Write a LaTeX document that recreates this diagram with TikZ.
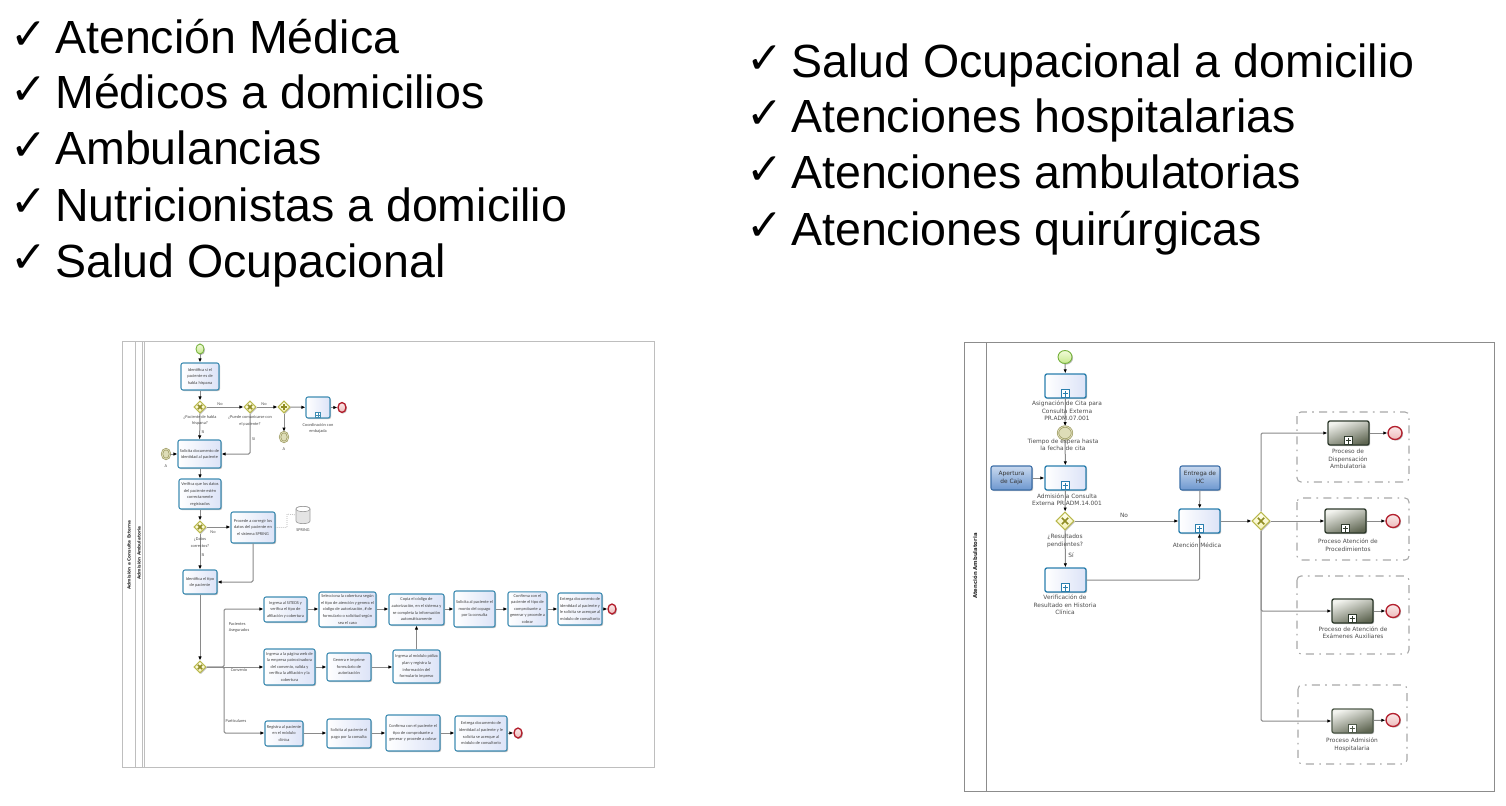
\documentclass[tikz,border=0pt]{standalone}
\usepackage{fontspec}
\setmainfont{Liberation Sans}
\newfontfamily\narrowf{Carlito}
\newfontfamily\widef{DejaVu Sans}
\usetikzlibrary{shapes.geometric,arrows.meta,shadows}
\definecolor{lineg}{HTML}{8A8A8A}
\definecolor{framec}{HTML}{BEBEBE}
\definecolor{framer}{HTML}{8C8C8C}
\newcommand{\dc}[1]{\definecolor{c#1}{HTML}{#1}}
\dc{3F8DB3}\dc{DCE3F7}\dc{2A7FAE}\dc{3D6FA8}\dc{C9D9EF}\dc{6D97CF}\dc{2E3A2C}\dc{F2F3EE}\dc{5F6652}\dc{4F5A4A}
\dc{B9B84C}\dc{FFFFF0}\dc{F4F1B4}\dc{8F8C24}\dc{77B23E}\dc{F2FBD9}\dc{C6E98D}\dc{B3202E}\dc{FBE9E9}\dc{EDBBBB}
\dc{9C9A62}\dc{DEDDB8}\dc{A8A8A8}\dc{A0A0A0}\dc{E4E4E4}
\tikzset{
  x=0.75pt,y=-0.75pt,
  headline/.style={font=\fontsize{34.9}{36}\selectfont,anchor=base west,inner sep=0pt,text=black},
  tickmark/.style={font=\widef\fontsize{33}{34}\selectfont,anchor=center,inner sep=0pt,text=black},
  softshadow/.style={drop shadow={shadow xshift=0.8pt,shadow yshift=-0.8pt,opacity=0.25,fill=black}},
  lefttask/.style={draw=c3F8DB3,line width=0.8pt,rounded corners=1.5pt,inner sep=0.5pt,align=center,
     left color=white,right color=cDCE3F7,softshadow,
     font=\narrowf\fontsize{3.25}{4.95}\selectfont,text=black!75},
  righttask/.style={lefttask,line width=1pt,draw=c2A7FAE},
  bluetask/.style={draw=c3D6FA8,line width=0.8pt,rounded corners=1.5pt,inner sep=0.5pt,align=center,
     top color=cC9D9EF,bottom color=c6D97CF,softshadow,
     font=\widef\fontsize{4.4}{5.7}\selectfont,text=black!80},
  greytask/.style={draw=c2E3A2C,line width=1pt,rounded corners=1.5pt,inner sep=0.5pt,
     top color=cF2F3EE,bottom color=c5F6652,shading angle=20,softshadow},
  greytaskb/.style={greytask,draw=c4F5A4A},
  flow/.style={draw=lineg,line width=0.75pt,rounded corners=1pt,-{Latex[length=3pt,width=2.6pt,black]}},
  lbl/.style={font=\narrowf\fontsize{3.25}{4.95}\selectfont,text=black!70,align=center,inner sep=0pt},
  rlbl/.style={font=\widef\fontsize{4.4}{5.7}\selectfont,text=black!70,align=center,inner sep=0pt},
  vtitle/.style={font=\widef\bfseries\fontsize{3.2}{4}\selectfont,rotate=90,inner sep=0pt,text=black!85},
  vtitleb/.style={font=\widef\bfseries\fontsize{4}{5}\selectfont,rotate=90,inner sep=0pt,text=black!85},
  gatew/.style={diamond,aspect=1,draw=cB9B84C,line width=0.8pt,inner sep=0pt,
     top color=cFFFFF0,bottom color=cF4F1B4,softshadow},
  gwmark/.style={draw=c8F8C24,line width=1.1pt},
  startev/.style={ellipse,draw=c77B23E,line width=0.7pt,inner sep=0pt,top color=cF2FBD9,bottom color=cC6E98D,softshadow},
  endev/.style={ellipse,draw=cB3202E,line width=1pt,inner sep=0pt,top color=cFBE9E9,bottom color=cEDBBBB,softshadow},
  interev/.style={ellipse,double=cDEDDB8,double distance=0.6pt,draw=c9C9A62,line width=0.5pt,inner sep=0pt,fill=cDEDDB8},
  markerb/.style={draw=#1,line width=0.6pt,fill=white,inner sep=0pt},
  dashbox/.style={draw=cA8A8A8,line width=0.8pt,rounded corners=3pt,
     dash pattern=on 6pt off 4pt on 1.2pt off 4pt},
  storeline/.style={draw=cA0A0A0,line width=0.5pt},
}
% style, name, x1, y1, x2, y2, text
\newcommand{\bx}[7]{%
  \pgfmathsetmacro{\bxw}{(#5-#3)*0.75}%
  \pgfmathsetmacro{\bxh}{(#6-#4)*0.75}%
  \node[#1,minimum width=\bxw pt,minimum height=\bxh pt] (#2) at ({(#3+#5)/2},{(#4+#6)/2})
    {\ifx&#7&\else\begin{tabular}{@{}c@{}}#7\end{tabular}\fi};}
% name, x, y, half size
\newcommand{\gwx}[4]{%
  \pgfmathsetmacro{\gws}{#4*1.5}%
  \node[gatew,minimum width=\gws pt,minimum height=\gws pt] (#1) at (#2,#3) {};
  \draw[gwmark] ([shift={(-#4*0.36,-#4*0.36)}]#1.center) -- ([shift={(#4*0.36,#4*0.36)}]#1.center);
  \draw[gwmark] ([shift={(-#4*0.36,#4*0.36)}]#1.center) -- ([shift={(#4*0.36,-#4*0.36)}]#1.center);}
\newcommand{\gwp}[4]{%
  \pgfmathsetmacro{\gws}{#4*1.5}%
  \node[gatew,minimum width=\gws pt,minimum height=\gws pt] (#1) at (#2,#3) {};
  \draw[gwmark] ([shift={(-#4*0.5,0)}]#1.center) -- ([shift={(#4*0.5,0)}]#1.center);
  \draw[gwmark] ([shift={(0,#4*0.5)}]#1.center) -- ([shift={(0,-#4*0.5)}]#1.center);}
% event: style, name, x, y, rx, ry
\newcommand{\ev}[6]{%
  \pgfmathsetmacro{\evw}{#5*1.5}\pgfmathsetmacro{\evh}{#6*1.5}%
  \node[#1,minimum width=\evw pt,minimum height=\evh pt] (#2) at (#3,#4) {};}
% sub-process marker: parent name, colour, half-size(px)
\newcommand{\mk}[3]{%
  \pgfmathsetmacro{\mks}{#3*1.5}%
  \node[markerb=#2,minimum size=\mks pt,anchor=south] (#1-m) at ([yshift=0.3pt]#1.south) {};
  \draw[#2,line width=0.7pt] ([xshift=-#3*0.55]#1-m.center) -- ([xshift=#3*0.55]#1-m.center);
  \draw[#2,line width=0.7pt] ([yshift=-#3*0.55]#1-m.center) -- ([yshift=#3*0.55]#1-m.center);}
\begin{document}
\begin{tikzpicture}
\useasboundingbox (0,0) rectangle (1506,806);
\fill[white] (0,0) rectangle (1506,806);
% ---- headline lists
\foreach \n/\t/\yy in {a/Atención Médica/54,b/Médicos a domicilios/109,c/Ambulancias/165,d/Nutricionistas a domicilio/221,e/Salud Ocupacional/277}{
  \node[tickmark] (ck\n) at (28.5,\yy-18) {✓};
  \node[headline] (h\n) at (55,\yy) {\t};
}
\foreach \n/\t/\yy in {f/Salud Ocupacional a domicilio/78,g/Atenciones hospitalarias/133,h/Atenciones ambulatorias/189,i/Atenciones quirúrgicas/245}{
  \node[tickmark] (ck\n) at (764.5,\yy-18) {✓};
  \node[headline] (h\n) at (791,\yy) {\t};
}
% ---- LEFT DIAGRAM
\draw[framec,line width=0.6pt,fill=white] (122,341) rectangle (654,767);
\draw[framec,line width=0.6pt] (135,341) -- (135,767);
\draw[framec,line width=0.6pt] (142,341) -- (142,767);
\draw[framec,line width=0.6pt] (144,341) -- (144,767);
\node[vtitle] (lt1) at (129,555) {Admisión a Consulta Externa};
\node[vtitle] (lt2) at (139,553) {Admisión Ambulatoria};

\ev{startev}{ls}{200}{349}{4}{5}
\bx{lefttask}{t1}{181}{363}{219}{390}{Identifica si el\\paciente es de\\habla hispana}
\gwx{g1}{200}{407}{6}
\gwx{g2}{250}{407}{6}
\gwp{g3}{284}{407}{6}
\bx{lefttask}{coord}{306}{397}{330}{418}{}
\mk{coord}{c3F8DB3}{2.5}
\ev{endev}{e1}{342}{407.5}{4}{5}
\ev{interev}{ia}{284}{437}{4}{5}
\ev{interev}{ib}{166}{454}{4}{5}
\bx{lefttask}{t2}{178}{440}{221}{468}{Solicita documento de\\identidad al paciente}
\bx{lefttask}{t3}{179}{479}{221}{509}{Verifica que los datos\\del paciente estén\\correctamente\\registrados}
\gwx{g4}{200}{527}{6}
\bx{lefttask}{t4}{231}{512}{275}{543}{Procede a corregir los\\datos del paciente en\\el sistema SPRING}
\node[inner sep=0pt,minimum width=10.5pt,minimum height=12pt] (spr) at (303,515) {};
\draw[storeline,fill=cE4E4E4] (296,509) -- (296,521) .. controls (296,524.5) and (310,524.5) .. (310,521) -- (310,509) .. controls (310,505.5) and (296,505.5) .. (296,509) -- cycle;
\draw[storeline,fill=white] (296,509) .. controls (296,512.5) and (310,512.5) .. (310,509) .. controls (310,505.5) and (296,505.5) .. (296,509) -- cycle;
\bx{lefttask}{t5}{183}{570}{217}{594}{Identifica el tipo\\de paciente}
\gwx{g5}{200}{667}{6}
\bx{lefttask}{a1}{264}{597}{307}{622}{Ingresa al SITEDS y\\verifica el tipo de\\afiliación y cobertura}
\bx{lefttask}{a2}{319}{592}{376}{627}{Selecciona la cobertura según\\el tipo de atención y genera el\\código de autorización, \# de\\formulario o solicitud según\\sea el caso}
\bx{lefttask}{a3}{389}{594}{444}{625}{Copia el código de\\autorización, en el sistema y\\se completa la información\\automáticamente}
\bx{lefttask}{a4}{454}{591}{495}{627}{Solicita al paciente el\\monto del copago\\por la consulta}
\bx{lefttask}{a5}{508}{592}{547}{626}{Confirma con el\\paciente el tipo de\\comprobante a\\generar y procede a\\cobrar}
\bx{lefttask}{a6}{558}{593}{602}{625}{Entrega documento de\\identidad al paciente y\\le solicita se acerque al\\módulo de consultorio}
\ev{endev}{e2}{612}{609}{4}{5}
\bx{lefttask}{b1}{264}{649}{315}{685}{Ingresa a la página web de\\la empresa patrocinadora\\del convenio, valida y\\verifica la afiliación y la\\cobertura}
\bx{lefttask}{b2}{327}{653}{371}{681}{Genera e imprime\\formulario de\\autorización}
\bx{lefttask}{b3}{393}{650}{440}{683}{Ingresa al módulo póliza\\plan  y registra la\\información del\\formulario impreso}
\bx{lefttask}{c1}{265}{721}{303}{746}{Registra al paciente\\en el módulo\\clínica}
\bx{lefttask}{c2}{327}{719}{371}{748}{Solicita al paciente el\\pago por la consulta}
\bx{lefttask}{c3}{386}{715}{440}{751}{Confirma con el paciente el\\tipo de comprobante a\\generar y procede a cobrar}
\bx{lefttask}{c4}{455}{716}{507}{751}{Entrega documento de\\identidad al paciente y le\\solicita se acerque al\\módulo de consultorio}
\ev{endev}{e3}{518}{733}{4}{5}

\draw[flow] (ls) -- (t1);
\draw[flow] (t1) -- (g1);
\draw[flow] (g1) -- (g2);
\draw[flow] (g2) -- (g3);
\draw[flow] (g3) -- (coord);
\draw[flow] (coord) -- (e1);
\draw[flow] (g3) -- (ia);
\draw[flow] (g1) -- (t2);
\draw[flow] (g2) |- (t2);
\draw[flow] (ib) -- (t2.west |- ib);
\draw[flow] (t2.south -| t3) -- (t3);
\draw[flow] (t3.south -| g4) -- (g4);
\draw[flow] (g4) -- (t4.west |- g4);
\draw[flow] (g4) -- (t5.north -| g4);
\draw[flow] (t4.south -| 253,0) |- (t5.east |- 0,582);
\draw[flow] (t5.south -| g5) -- (g5);
\coordinate (sprb) at (287,514);
\draw[draw=lineg,line width=0.5pt,densely dotted] (t4.east) -| (sprb) -- (spr.west);
\draw[flow] (g5) -- (b1.west |- g5);
\draw[flow] (g5.east) -| (224,609) -- (a1.west |- 0,609);
\draw[flow] (g5.east) -| (224,733) -- (c1.west |- 0,733);
\draw[flow] (a1.east |- 0,609) -- (a2.west |- 0,609);
\draw[flow] (a2.east |- 0,609) -- (a3.west |- 0,609);
\draw[flow] (a3.east |- 0,609) -- (a4.west |- 0,609);
\draw[flow] (a4.east |- 0,609) -- (a5.west |- 0,609);
\draw[flow] (a5.east |- 0,609) -- (a6.west |- 0,609);
\draw[flow] (a6.east |- 0,609) -- (e2);
\draw[flow] (b1.east |- g5) -- (b2.west |- g5);
\draw[flow] (b2.east |- g5) -- (b3.west |- g5);
\draw[flow] (b3.north) -- (a3.south -| b3);
\draw[flow] (c1.east |- 0,733) -- (c2.west |- 0,733);
\draw[flow] (c2.east |- 0,733) -- (c3.west |- 0,733);
\draw[flow] (c3.east |- 0,733) -- (c4.west |- 0,733);
\draw[flow] (c4.east |- 0,733) -- (e3);

\node[lbl] (l1) at (200,420.5) {¿Paciente de habla\\hispana?};
\node[lbl] (l2) at (220,404) {No};
\node[lbl] (l3) at (203,432) {Si};
\node[lbl] (l4) at (250,421) {¿Puede comunicarse con\\el paciente?};
\node[lbl] (l5) at (264,404) {No};
\node[lbl] (l6) at (253.5,439) {Si};
\node[lbl] (l7) at (284,449) {A};
\node[lbl] (l8) at (166,466) {A};
\node[lbl] (l9) at (318,428.5) {Coordinación con\\embajada};
\node[lbl] (l10) at (200,542.5) {¿Datos\\correctos?};
\node[lbl] (l11) at (213,532) {No};
\node[lbl] (l12) at (203,555) {Si};
\node[lbl] (l13) at (303,530) {SPRING};
\node[lbl,align=left] (l14) at (239,627.5) {Pacientes\\Asegurados};
\node[lbl] (l15) at (239,670) {Convenio};
\node[lbl] (l16) at (236,721) {Particulares};

% ---- RIGHT DIAGRAM
\draw[framer,line width=0.6pt,fill=white] (964,342) rectangle (1494,791);
\draw[framer,line width=0.6pt] (986,342) -- (986,791);
\node[vtitleb] (rt1) at (975,566) {Atención Ambulatoria};

\draw[dashbox] (1297,412) rectangle (1409,482);
\draw[dashbox] (1297,498) rectangle (1409,560);
\draw[dashbox] (1297,576) rectangle (1409,654);
\draw[dashbox] (1298,685) rectangle (1407,764);

\ev{startev}{rs}{1065}{357}{7}{6.5}
\bx{righttask}{r1}{1045}{374}{1086}{398}{}
\mk{r1}{c2A7FAE}{4}
\ev{interev}{rt}{1065}{433}{7}{6.5}
\bx{righttask}{r2}{1045}{466}{1086}{490}{}
\mk{r2}{c2A7FAE}{4}
\bx{bluetask}{ap}{991}{466}{1032}{490}{Apertura\\de Caja}
\gwx{rg1}{1065}{521}{9}
\bx{righttask}{r3}{1045}{568}{1086}{592}{}
\mk{r3}{c2A7FAE}{4}
\bx{righttask}{r4}{1179}{509}{1220}{533}{}
\mk{r4}{c2A7FAE}{4}
\bx{bluetask}{hc}{1180}{466}{1220}{490}{Entrega de\\HC}
\gwx{rg2}{1261}{521}{9}
\bx{greytask}{s1}{1328}{421}{1369}{445}{}
\mk{s1}{c2E3A2C}{4}
\ev{endev}{re1}{1395}{433}{7}{6.5}
\bx{greytask}{s2}{1325}{509}{1366}{533}{}
\mk{s2}{c2E3A2C}{4}
\ev{endev}{re2}{1393}{521}{7}{6.5}
\bx{greytask}{s3}{1332}{599}{1373}{623}{}
\mk{s3}{c2E3A2C}{4}
\ev{endev}{re3}{1393}{611}{7}{6.5}
\bx{greytaskb}{s4}{1332}{709}{1373}{733}{}
\mk{s4}{c4F5A4A}{4}
\ev{endev}{re4}{1393}{720}{7}{6.5}

\draw[flow] (rs) -- (r1);
\draw[flow] (r1) -- (rt);
\draw[flow] (rt) -- (r2);
\draw[flow] (ap) -- (r2);
\draw[flow] (r2) -- (rg1);
\draw[flow] (rg1) -- (r3);
\draw[flow] (rg1) -- (r4.west |- rg1);
\draw[flow] (r3.east) -| (r4.south);
\draw[flow] (hc) -- (r4);
\draw[flow] (r4.east |- rg2) -- (rg2);
\draw[flow] (rg2) -- (s2);
\draw[flow] (rg2) |- (s1);
\draw[flow] (rg2) |- (s3);
\draw[flow] (rg2) |- (s4);
\draw[flow] (s1) -- (re1);
\draw[flow] (s2) -- (re2);
\draw[flow] (s3) -- (re3);
\draw[flow] (s4) -- (re4);

\node[rlbl] (m1) at (1067,411) {Asignación de Cita para\\Consulta Externa\\PR.ADM.07.001};
\node[rlbl] (m2) at (1063,445) {Tiempo de espera hasta\\la fecha de cita};
\node[rlbl] (m3) at (1067,499.5) {Admisión a Consulta\\Externa  PR.ADM.14.001};
\node[rlbl] (m4) at (1065,541) {¿Resultados\\pendientes?};
\node[rlbl] (m5) at (1071,555) {Sí};
\node[rlbl] (m6) at (1124,515) {No};
\node[rlbl] (m7) at (1065,605) {Verificación de\\Resultado en Historia\\Clínica};
\node[rlbl] (m8) at (1197,545) {Atención Médica};
\node[rlbl] (m9) at (1348,459) {Proceso de\\Dispensación\\Ambulatoria};
\node[rlbl] (m10) at (1348,545) {Proceso Atención de\\Procedimientos};
\node[rlbl] (m11) at (1353,632.5) {Proceso de Atención de\\Exámenes Auxiliares};
\node[rlbl] (m12) at (1352,744.5) {Proceso Admisión\\Hospitalaria};
\end{tikzpicture}
\end{document}
